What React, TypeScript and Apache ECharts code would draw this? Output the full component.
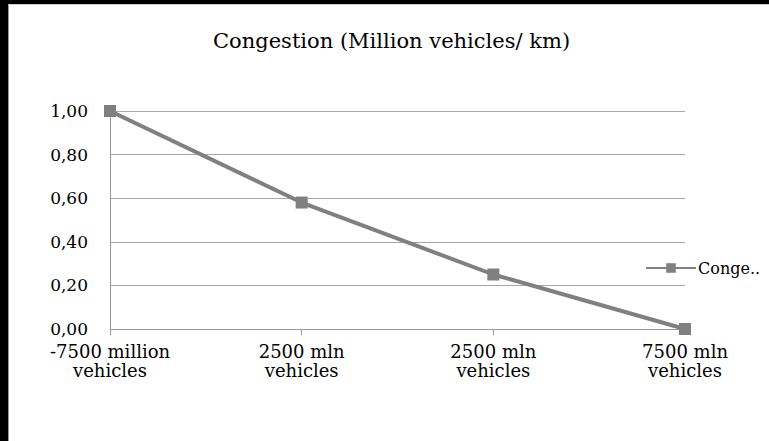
import React, { useEffect, useRef } from "react";
import * as echarts from "echarts";

const categories = [
  "-7500 million\nvehicles",
  "2500 mln\nvehicles",
  "2500 mln\nvehicles",
  "7500 mln\nvehicles",
];
const congestion = [1.0, 0.58, 0.25, 0.0];
const seriesName = "Congestion";
const legendLabel = "Conge..";
const titleText = "Congestion (Million vehicles/ km)";

const FONT = "'DejaVu Serif', 'Liberation Serif', serif";

export default function App() {
  const ref = useRef<HTMLDivElement>(null);
  useEffect(() => {
    document.body.style.margin = "0";
    const chart = echarts.init(ref.current!, null, { renderer: "svg" });
    chart.setOption({
      animation: false,
      backgroundColor: "#ffffff",
      title: {
        text: titleText,
        left: 208,
        top: 25,
        textStyle: { fontFamily: FONT, fontSize: 21, fontWeight: "normal", color: "#000" },
      },
      graphic: [
        { type: "rect", shape: { x: 0, y: 0, width: 769, height: 4 }, style: { fill: "#000" } },
        { type: "rect", shape: { x: 0, y: 0, width: 8, height: 441 }, style: { fill: "#000" } },
        { type: "line", shape: { x1: 8.5, y1: 4, x2: 8.5, y2: 441 }, style: { stroke: "#9a9a9a", lineWidth: 1 } },
        { type: "line", shape: { x1: 8, y1: 4.5, x2: 769, y2: 4.5 }, style: { stroke: "#cfcfcf", lineWidth: 1 } },
      ],
      grid: { left: 110, right: 84, top: 111, bottom: 112 },
      legend: {
        orient: "vertical",
        left: 640,
        top: 255,
        itemWidth: 50,
        itemHeight: 12,
        itemGap: 4,
        data: [seriesName],
        formatter: () => legendLabel,
        textStyle: { fontFamily: FONT, fontSize: 16, color: "#000", padding: [0, 0, 0, -3] },
        lineStyle: { width: 2 },
      },
      xAxis: {
        type: "category",
        data: categories,
        boundaryGap: false,
        axisLine: { lineStyle: { color: "#9a9a9a", width: 1 } },
        axisTick: { show: true, length: 6, lineStyle: { color: "#9a9a9a" } },
        axisLabel: {
          fontFamily: FONT,
          fontSize: 18,
          color: "#000",
          lineHeight: 19,
          margin: 13,
          interval: 0,
        },
      },
      yAxis: {
        type: "value",
        min: 0,
        max: 1,
        interval: 0.2,
        axisLine: { show: true, lineStyle: { color: "#9a9a9a", width: 1 } },
        axisTick: { show: false },
        splitLine: { lineStyle: { color: "#a6a6a6", width: 1 } },
        axisLabel: {
          fontFamily: FONT,
          fontSize: 17,
          color: "#000",
          margin: 22,
          formatter: (v: number) => v.toFixed(2).replace(".", ","),
        },
      },
      series: [
        {
          name: seriesName,
          type: "line",
          data: congestion,
          symbol: "rect",
          symbolSize: 12,
          lineStyle: { color: "#808080", width: 4 },
          itemStyle: { color: "#808080" },
        },
      ],
    });
    return () => chart.dispose();
  }, []);
  return <div ref={ref} style={{ width: 769, height: 441 }} />;
}
